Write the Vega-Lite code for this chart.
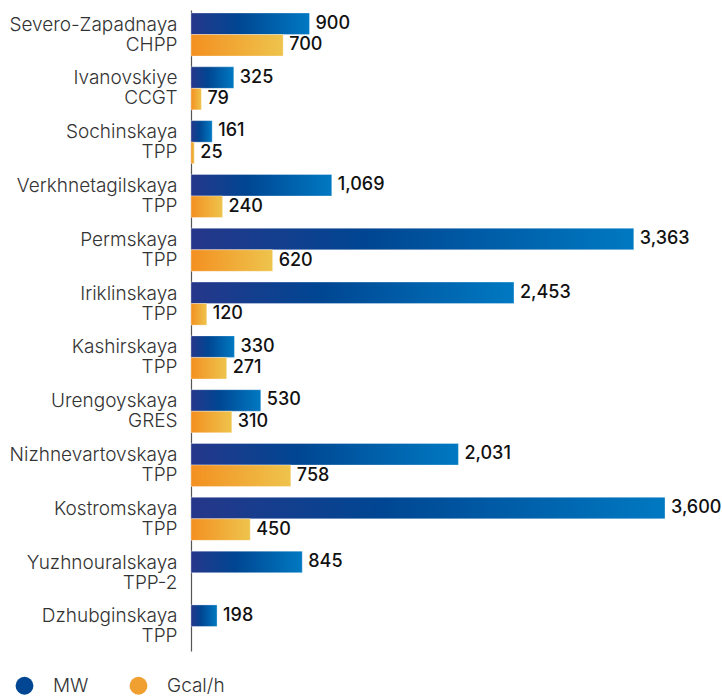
{
  "$schema": "https://vega.github.io/schema/vega-lite/v6.json",
  "autosize": "none",
  "width": 474,
  "height": 641,
  "padding": {"left": 191, "top": 10, "right": 57, "bottom": 47},
  "background": "white",
  "config": {"view": {"stroke": null}, "font": "Inter"},
  "data": {"values": [
    {"station": "Severo-Zapadnaya|CHPP", "series": "MW", "value": 900},
    {"station": "Severo-Zapadnaya|CHPP", "series": "Gcal/h", "value": 700},
    {"station": "Ivanovskiye|CCGT", "series": "MW", "value": 325},
    {"station": "Ivanovskiye|CCGT", "series": "Gcal/h", "value": 79},
    {"station": "Sochinskaya|TPP", "series": "MW", "value": 161},
    {"station": "Sochinskaya|TPP", "series": "Gcal/h", "value": 25},
    {"station": "Verkhnetagilskaya|TPP", "series": "MW", "value": 1069},
    {"station": "Verkhnetagilskaya|TPP", "series": "Gcal/h", "value": 240},
    {"station": "Permskaya|TPP", "series": "MW", "value": 3363},
    {"station": "Permskaya|TPP", "series": "Gcal/h", "value": 620},
    {"station": "Iriklinskaya|TPP", "series": "MW", "value": 2453},
    {"station": "Iriklinskaya|TPP", "series": "Gcal/h", "value": 120},
    {"station": "Kashirskaya|TPP", "series": "MW", "value": 330},
    {"station": "Kashirskaya|TPP", "series": "Gcal/h", "value": 271},
    {"station": "Urengoyskaya|GRES", "series": "MW", "value": 530},
    {"station": "Urengoyskaya|GRES", "series": "Gcal/h", "value": 310},
    {"station": "Nizhnevartovskaya|TPP", "series": "MW", "value": 2031},
    {"station": "Nizhnevartovskaya|TPP", "series": "Gcal/h", "value": 758},
    {"station": "Kostromskaya|TPP", "series": "MW", "value": 3600},
    {"station": "Kostromskaya|TPP", "series": "Gcal/h", "value": 450},
    {"station": "Yuzhnouralskaya|TPP-2", "series": "MW", "value": 845},
    {"station": "Dzhubginskaya|TPP", "series": "MW", "value": 198}
  ]},
  "encoding": {
    "y": {
      "field": "station", "type": "nominal", "sort": null,
      "scale": {"paddingInner": 0.2, "paddingOuter": 0.056},
      "axis": {
        "title": null, "ticks": false, "domainColor": "#555", "domainWidth": 1.2,
        "labelExpr": "split(datum.value, '|')",
        "labelFont": "Inter", "labelFontSize": 19, "labelColor": "#333", "labelFontWeight": 300,
        "labelLineHeight": 20, "labelPadding": 14, "labelLimit": 300, "labelOffset": -10
      }
    },
    "yOffset": {"field": "series", "type": "nominal", "sort": ["MW", "Gcal/h"], "scale": {"domain": ["MW", "Gcal/h"], "paddingInner": 0, "paddingOuter": 0}},
    "x": {"field": "value", "type": "quantitative", "scale": {"domain": [0, 3600], "nice": false}, "axis": null}
  },
  "layer": [
    {
      "mark": {"type": "bar", "stroke": "#ffffff", "strokeOpacity": 0.4, "strokeWidth": 0.8},
      "encoding": {
        "fill": {
          "condition": {"test": "datum.series === 'MW'", "value": {"gradient": "linear", "x1": 0, "y1": 0, "x2": 1, "y2": 0, "stops": [
                {"offset": 0, "color": "#26378a"},
                {"offset": 0.4, "color": "#004692"},
                {"offset": 1, "color": "#0079c2"}
              ]}},
          "value": {"gradient": "linear", "x1": 0, "y1": 0, "x2": 1, "y2": 0, "stops": [
                {"offset": 0, "color": "#f39021"},
                {"offset": 1, "color": "#eec44c"}
              ]}
        }
      }
    },
    {
      "mark": {"type": "point", "filled": true, "opacity": 0},
      "encoding": {
        "color": {
          "field": "series", "type": "nominal",
          "scale": {"domain": ["MW", "Gcal/h"], "range": ["#004692", "#f0a030"]},
          "legend": {
            "title": null, "orient": "none", "direction": "horizontal",
            "legendX": -176, "legendY": 666,
            "symbolType": "circle", "symbolSize": 320, "symbolStrokeWidth": 0, "symbolOpacity": 1,
            "labelFont": "Inter", "labelFontSize": 19, "labelColor": "#333", "labelFontWeight": 300,
            "labelOffset": 19, "columnPadding": 40,
            "encode": {"symbols": {"update": {
              "opacity": {"value": 1},
              "fill": [
                {"test": "datum.value === 'MW'", "value": {"gradient": "linear", "x1": 0, "y1": 0, "x2": 1, "y2": 0, "stops": [
                  {"offset": 0, "color": "#26378a"},
                  {"offset": 0.4, "color": "#004692"},
                  {"offset": 1, "color": "#0079c2"}
                ]}},
                {"value": {"gradient": "linear", "x1": 0, "y1": 0, "x2": 1, "y2": 0, "stops": [
                  {"offset": 0, "color": "#f39021"},
                  {"offset": 1, "color": "#eec44c"}
                ]}}
              ]
            }}}
          }
        }
      }
    },
    {
      "mark": {"type": "text", "align": "left", "baseline": "middle", "dx": 6, "fontSize": 18, "fontWeight": 500, "fill": "#111111", "font": "Inter"},
      "encoding": {"text": {"field": "value", "type": "quantitative", "format": ","}}
    }
  ]
}
